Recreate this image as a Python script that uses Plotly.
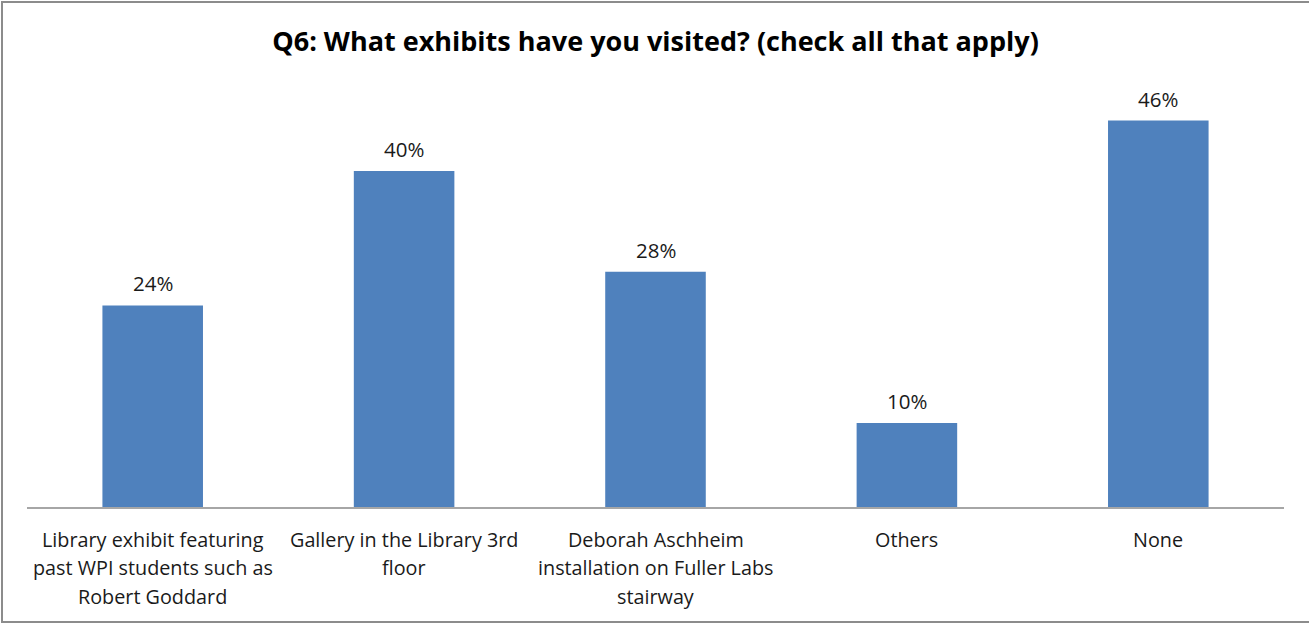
import plotly.graph_objects as go

# Survey question and answers
title_text = "Q6: What exhibits have you visited? (check all that apply)"
category_lines = [
    ["Library exhibit featuring", "past WPI students such as", "Robert Goddard"],
    ["Gallery in the Library 3rd", "floor"],
    ["Deborah Aschheim", "installation on Fuller Labs", "stairway"],
    ["Others"],
    ["None"],
]
categories = [" ".join(lines) for lines in category_lines]
shares = [0.24, 0.40, 0.28, 0.10, 0.46]

W, H = 1309, 627
ML, MR, MT, MB = 27, 25, 87, 120
plot_w = W - ML - MR
plot_h = H - MT - MB
FONT = "'Open Sans', Lato, sans-serif"
TEXT_COLOR = "#1a1a1a"

fig = go.Figure()
fig.add_trace(go.Bar(
    x=categories,
    y=shares,
    marker=dict(color="#4f81bd", line=dict(width=0)),
    hoverinfo="skip",
))

# Percentage labels above each bar
for cat, v in zip(categories, shares):
    fig.add_annotation(
        x=cat, y=v, xref="x", yref="y",
        text=f"{v:.0%}", showarrow=False,
        yanchor="bottom", yshift=6,
        font=dict(family=FONT, size=20.5, color=TEXT_COLOR),
    )

# Wrapped category labels below the axis
for cat, lines in zip(categories, category_lines):
    for j, line in enumerate(lines):
        fig.add_annotation(
            x=cat, y=0, xref="x", yref="y",
            text=line, showarrow=False,
            yanchor="middle", yshift=-(32 + 28.5 * j),
            font=dict(family=FONT, size=19.8, color=TEXT_COLOR),
        )

# Chart frame
def px_x(px):
    return (px - ML) / plot_w

def px_y(py):
    return (H - MB - py) / plot_h

fig.add_shape(
    type="path", xref="paper", yref="paper",
    path=(f"M {px_x(1310)} {px_y(2)} L {px_x(2)} {px_y(2)} "
          f"L {px_x(2)} {px_y(622)} L {px_x(1310)} {px_y(622)}"),
    line=dict(color="#8c8c8c", width=2),
)

fig.update_layout(
    width=W, height=H,
    margin=dict(l=ML, r=MR, t=MT, b=MB),
    paper_bgcolor="white", plot_bgcolor="white",
    bargap=0.6,
    showlegend=False,
    title=dict(
        text="<b>" + title_text + "</b>",
        x=0.5, xanchor="center", xref="paper",
        y=1 - 42 / H, yanchor="middle", yref="container",
        font=dict(family=FONT, size=27, color="#000000"),
    ),
    xaxis=dict(
        showticklabels=False, showgrid=False, zeroline=False,
        showline=True, linecolor="#a6a6a6", linewidth=2,
        ticks="", fixedrange=True,
    ),
    yaxis=dict(
        range=[0, 0.5], visible=False, showgrid=False, zeroline=False,
        fixedrange=True,
    ),
)

fig.write_html("out.html")
